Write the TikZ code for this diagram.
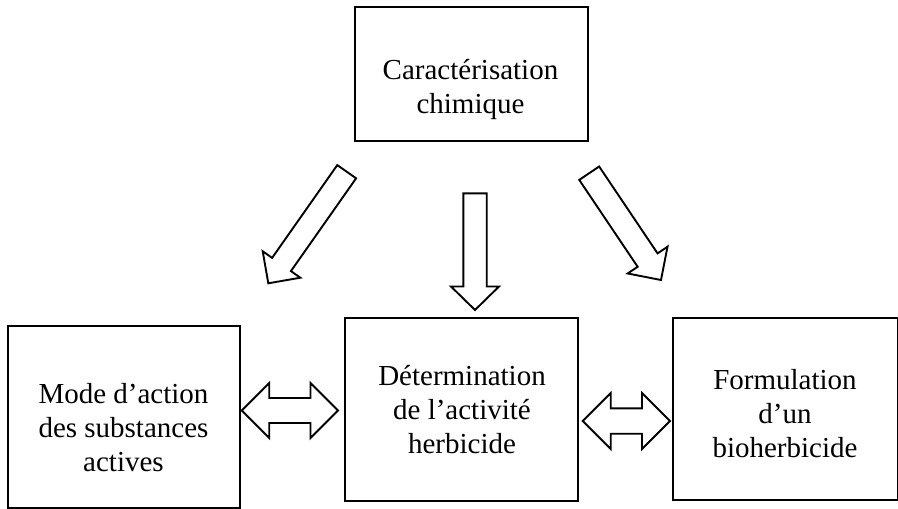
\documentclass[tikz,border=0pt]{standalone}
\usepackage{fontspec}
\setmainfont{Liberation Serif}
\usetikzlibrary{calc}
\newcommand\myblockarrow[5]{% start, end, shaft half width, head half width, head length
  \draw[blk] ($(#1)!#3!90:(#2)$) -- ($($(#2)!#5!(#1)$)!#3!90:(#2)$) -- ($($(#2)!#5!(#1)$)!#4!90:(#2)$) -- (#2)
    -- ($($(#2)!#5!(#1)$)!#4!-90:(#2)$) -- ($($(#2)!#5!(#1)$)!#3!-90:(#2)$) -- ($(#1)!#3!-90:(#2)$) -- cycle;}
\newcommand\mydoublearrow[5]{% a, b, shaft half, head half, head length
  \draw[blk] (#1) -- ($($(#1)!#5!(#2)$)!#4!90:(#2)$) -- ($($(#1)!#5!(#2)$)!#3!90:(#2)$)
    -- ($($(#2)!#5!(#1)$)!#3!-90:(#1)$) -- ($($(#2)!#5!(#1)$)!#4!-90:(#1)$) -- (#2)
    -- ($($(#2)!#5!(#1)$)!#4!90:(#1)$) -- ($($(#2)!#5!(#1)$)!#3!90:(#1)$)
    -- ($($(#1)!#5!(#2)$)!#3!-90:(#2)$) -- ($($(#1)!#5!(#2)$)!#4!-90:(#2)$) -- cycle;}
\begin{document}
\begin{tikzpicture}[x=1pt,y=-1pt,
  box/.style={draw,line width=2pt,inner sep=0pt,anchor=north west},
  lbl/.style={align=center,font=\fontsize{29}{34}\selectfont,inner sep=0pt},
  blk/.style={draw,line width=1.9pt,fill=white,line join=miter}]
\useasboundingbox (0,0) rectangle (898,509);
% boxes
\node[box,minimum width=233pt,minimum height=134pt] (top) at (354,6) {};
\node[box,minimum width=232pt,minimum height=182pt] (left) at (7,325) {};
\node[box,minimum width=233pt,minimum height=183pt] (mid) at (344,317) {};
\node[box,minimum width=225pt,minimum height=182pt] (right) at (672,317) {};
% labels
\node[lbl] (ttop) at (470.5,89.5) {Caractérisation\\chimique};
\node[lbl] (tleft) at (123.5,427.5) {Mode d’action\\des substances\\actives};
\node[lbl] (tmid) at (462,409.6) {Détermination\\de l’activité\\herbicide};
\node[lbl] (tright) at (785,413.6) {Formulation\\d’un\\bioherbicide};
% arrow ends
\coordinate (la1) at (346.7,171.7);
\coordinate (la2) at (268.3,283.3);
\coordinate (ma1) at (475,193.3);
\coordinate (ma2) at (475,310);
\coordinate (ra1) at (589.2,173.2);
\coordinate (ra2) at (661,280);
\coordinate (dl1) at (241.7,410.5);
\coordinate (dl2) at (338,410.5);
\coordinate (dr1) at (582.7,421);
\coordinate (dr2) at (670,421);
\myblockarrow{la1}{la2}{11.5pt}{23pt}{23pt}
\myblockarrow{ma1}{ma2}{11.7pt}{24pt}{23.5pt}
\myblockarrow{ra1}{ra2}{12pt}{24pt}{24pt}
\mydoublearrow{dl1}{dl2}{12.5pt}{27.5pt}{27.5pt}
\mydoublearrow{dr1}{dr2}{12.7pt}{28pt}{28pt}
\end{tikzpicture}
\end{document}
